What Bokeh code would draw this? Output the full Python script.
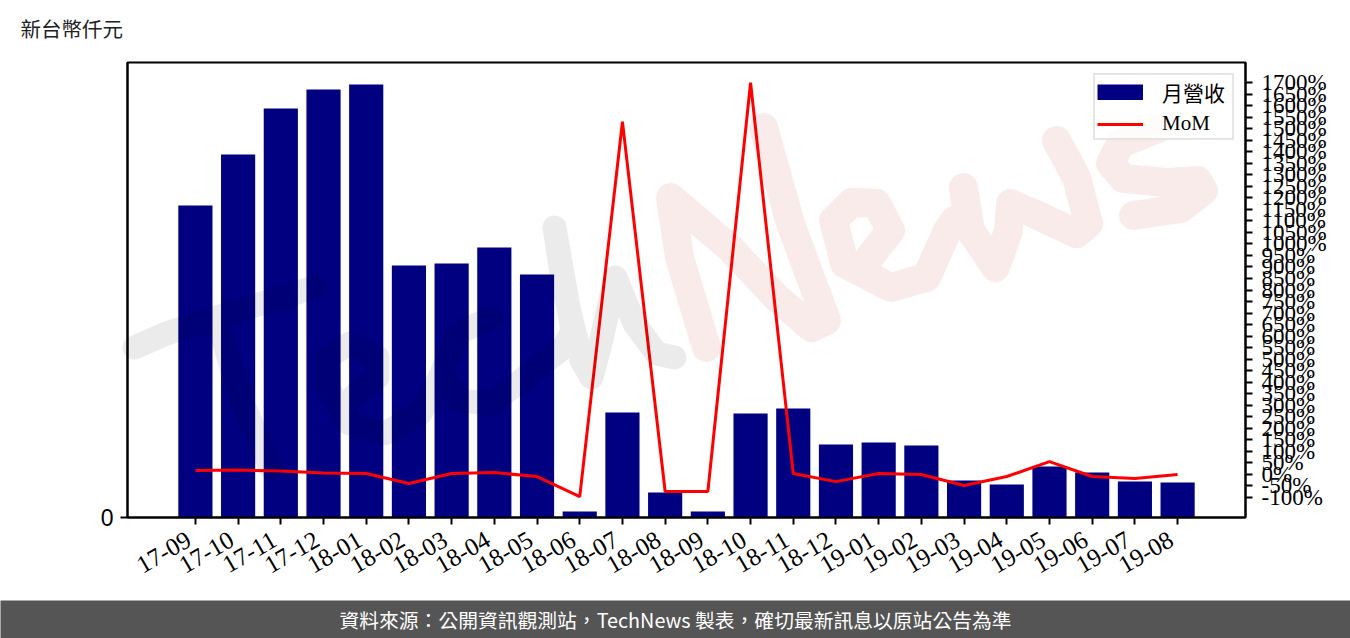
from bokeh.plotting import figure
from bokeh.embed import file_html
from bokeh.resources import INLINE
from bokeh.layouts import column
from bokeh.core.properties import value
from bokeh.models import (Range1d, LinearAxis, FixedTicker, PrintfTickFormatter,
                          Legend, LegendItem, CustomLabelingPolicy)
from math import radians

months = ["17-09","17-10","17-11","17-12","18-01","18-02","18-03","18-04","18-05","18-06","18-07","18-08",
          "18-09","18-10","18-11","18-12","19-01","19-02","19-03","19-04","19-05","19-06","19-07","19-08"]
revenue = [312,363,409,428,433,252,254,270,243,6,105,25,6,104,109,73,75,72,37,33,51,45,36,35]
mom = [17,19,15,6,4,-39,4,8,-9,-96,1530,-74,-74,1700,4,-31,4,0,-48,-9,56,-9,-18,0]
mom_ticks = list(range(-100, 1701, 50))
positions = list(range(len(months)))

title_text = "新台幣仟元"
footer_text = "資料來源：公開資訊觀測站，TechNews 製表，確切最新訊息以原站公告為準"

# Decorative hand-written watermark strokes, in page pixels
wm_gray_x = [[134,166,216,313,216,241,270],
             [352,377,377,349,327,327,349,384,420,441,457,491,457,441,459,491,563,572,554,563,581,591,600,615,634,656,674]]
wm_gray_y = [[347,333,317,287,317,400,467],
             [397,377,357,343,357,387,423,433,413,373,333,317,333,373,400,403,347,330,227,287,360,377,343,277,323,353,357]]
wm_pink_x = [[706,679,670,729,776,811,826,790,763],
             [869,890,876,851,833,844,890,926,947,954,968,963,970,995,1008,1010,1033,1076,1088,1076,1056],
             [1157,1120,1110,1123,1167,1197,1203,1180,1133]]
wm_pink_y = [[347,257,197,247,297,327,320,223,127],
             [257,230,203,202,220,263,287,277,230,220,222,187,230,267,230,203,213,233,223,177,140],
             [128,143,163,178,182,180,190,208,215]]

SERIF = "Liberation Serif"
W, H = 1350, 638
TOP_H, FOOT_H = 60, 38
L, R, T, B = 127, 1245, 62, 517
PH = H - TOP_H - FOOT_H


def strip(height, fill):
    f = figure(width=W, height=height, output_backend="svg", toolbar_location=None,
               x_range=Range1d(0, W), y_range=Range1d(height, 0),
               x_axis_location=None, y_axis_location=None, frame_align=False,
               min_border=0, background_fill_color=fill, border_fill_color=fill, outline_line_color=None)
    f.grid.visible = False
    return f


top = strip(TOP_H, "white")
top.text(x=[20], y=[27], text=[title_text], text_font=value("Noto Sans CJK TC"), text_font_size="20.5px",
         text_color="#222222", text_baseline="middle", text_align="left")

foot = strip(FOOT_H, "#555555")
foot.text(x=[675], y=[19], text=[footer_text], text_font=value("Noto Sans CJK TC"), text_font_size="19.8px",
          text_color="white", text_baseline="middle", text_align="center")

p = figure(width=W, height=PH, output_backend="svg", toolbar_location=None, frame_align=False,
           x_range=Range1d(-1.59, 24.59),
           y_range=Range1d(0, 455),
           frame_width=R-L, frame_height=B-T,
           min_border_left=L, min_border_right=W-R, min_border_top=T-TOP_H, min_border_bottom=TOP_H+PH-B,
           background_fill_color="white", border_fill_color="white")
p.grid.visible = False
p.outline_line_color = "black"
p.outline_line_width = 2

p.extra_y_ranges = {"mom": Range1d(-186.7, 1787), "px": Range1d(B, T)}
p.extra_x_ranges = {"px": Range1d(L, R), "lab": Range1d(-1.59 + 0.152, 24.59 + 0.152)}

bars = p.vbar(x=positions, top=revenue, width=0.8, bottom=0, color="#000080", line_width=0)
line = p.line(x=positions, y=mom, y_range_name="mom", line_color="#ff0000", line_width=3)
bar_key = p.line(x=[float("nan")], y=[float("nan")], line_color="#000080", line_width=16)

p.multi_line(xs=wm_gray_x, ys=wm_gray_y, x_range_name="px", y_range_name="px", line_color="#000000",
             line_alpha=0.08, line_width=24, line_cap="round", line_join="round", level="overlay")
p.multi_line(xs=wm_pink_x, ys=wm_pink_y, x_range_name="px", y_range_name="px", line_color="#c00500",
             line_alpha=0.08, line_width=29, line_cap="round", line_join="round", level="overlay")

xa = p.xaxis[0]
xa.ticker = FixedTicker(ticks=positions)
xa.major_label_policy = CustomLabelingPolicy(code="")
xa.major_label_text_font_size = "1px"
xa.major_label_standoff = 0
xa.axis_line_width = 2
xa.major_tick_line_width = 2
xa.major_tick_out = 7
xa.major_tick_in = 0
xa.minor_tick_line_color = None

xl = LinearAxis(x_range_name="lab", ticker=FixedTicker(ticks=positions))
xl.major_label_overrides = dict(zip(positions, months))
xl.major_label_orientation = radians(30)
xl.major_label_text_font = SERIF
xl.major_label_text_font_size = "25px"
xl.major_label_text_color = "black"
xl.axis_line_color = None
xl.major_tick_line_color = None
xl.minor_tick_line_color = None
xl.major_tick_out = 0
xl.major_tick_in = 0
xl.major_label_standoff = 9
p.add_layout(xl, "below")

ya = p.yaxis[0]
ya.ticker = FixedTicker(ticks=[0])
ya.major_label_text_font = "Liberation Sans"
ya.major_label_text_font_size = "23px"
ya.major_label_text_color = "black"
ya.axis_line_width = 2
ya.major_tick_line_width = 2
ya.major_tick_out = 7
ya.major_tick_in = 0
ya.minor_tick_line_color = None
ya.major_label_standoff = 7

ra = LinearAxis(y_range_name="mom", ticker=FixedTicker(ticks=mom_ticks),
                formatter=PrintfTickFormatter(format="%d%%"))
ra.major_label_text_font = SERIF
ra.major_label_text_font_size = "23px"
ra.major_label_text_color = "black"
ra.axis_line_width = 2
ra.major_tick_line_width = 2
ra.major_tick_out = 7
ra.major_tick_in = 0
ra.minor_tick_line_color = None
ra.major_label_standoff = 9
p.add_layout(ra, "right")

legend = Legend(items=[LegendItem(label="月營收", renderers=[bar_key]), LegendItem(label="MoM", renderers=[line])],
                location="top_right", margin=11, padding=2, spacing=4,
                glyph_width=46, glyph_height=16, label_width=68, label_standoff=19,
                label_text_font=SERIF + ", Noto Sans CJK TC", label_text_font_size="21px", label_text_color="black",
                border_line_color="#cccccc", border_line_width=2, background_fill_alpha=0.8)
p.add_layout(legend)

page = column(top, p, foot, spacing=0)
open("out.html", "w").write(file_html(page, INLINE))
